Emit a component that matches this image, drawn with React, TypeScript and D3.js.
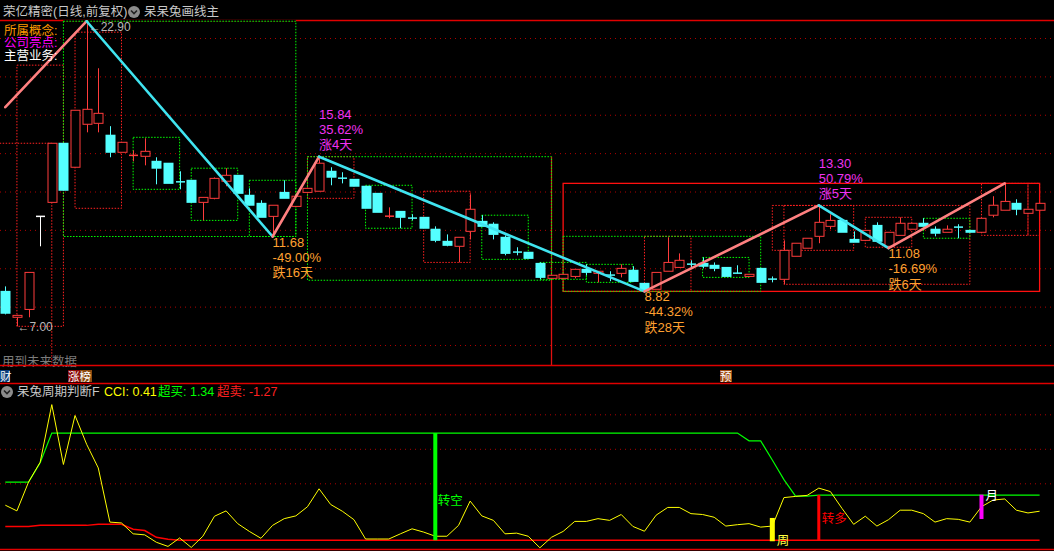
import React from 'react';
import * as d3 from 'd3';

// ---------- data ----------
const opens = [8.82,7.47,7.88,12.73,13.46,16.54,15.29,17.53,17.58,16.96,16.07,15.89,15.86,15.60,15.50,14.53,14.61,13.46,13.67,14.56,14.87,13.83,13.41,12.73,13.98,13.25,13.98,14.04,15.08,14.72,14.66,14.30,13.93,12.72,12.99,12.64,12.68,12.06,11.43,11.17,11.95,12.47,12.32,11.64,10.87,10.86,10.28,9.50,9.50,9.60,9.97,9.76,9.67,9.76,9.92,9.24,8.93,9.87,10.07,10.24,10.28,10.18,10.07,9.77,9.60,10.02,9.46,9.45,10.65,11.07,11.69,12.21,12.52,11.53,11.48,12.26,11.17,11.74,12.06,12.37,12.06,11.90,12.17,12.00,11.90,12.79,13.05,13.41,12.89,13.05];
const closes = [7.68,7.57,9.81,12.73,16.54,14.09,18.26,18.31,18.10,16.07,16.59,15.91,16.12,15.24,14.45,14.51,13.46,13.72,14.71,14.87,13.93,13.31,12.68,13.31,13.67,13.78,14.19,15.50,14.77,14.71,14.30,13.15,12.94,12.74,12.68,12.63,12.11,11.48,11.22,11.64,13.10,12.21,11.79,10.80,10.86,10.54,9.55,9.66,9.71,9.97,9.81,9.87,9.66,10.02,9.34,8.88,9.81,10.33,10.44,10.23,10.13,10.02,9.60,9.76,9.71,9.29,9.45,10.96,11.33,11.59,12.42,12.52,11.90,11.38,12.00,11.43,11.90,12.37,12.37,12.21,11.85,12.06,12.16,11.90,12.63,13.31,13.51,13.10,13.10,13.41];
const highs = [9.08,7.60,9.81,12.73,16.54,16.54,18.26,22.90,20.45,17.43,16.59,16.17,16.80,15.81,15.50,15.08,14.61,13.72,14.76,15.24,14.87,14.19,13.57,13.31,14.61,13.78,14.19,15.84,15.29,15.03,14.66,14.30,13.93,13.20,12.99,12.84,12.68,12.21,11.79,11.64,13.88,12.79,12.42,11.74,11.12,10.86,10.33,9.66,9.71,9.97,10.23,9.87,9.87,10.23,10.13,9.24,9.81,11.64,10.80,10.44,10.59,10.33,10.07,10.18,9.71,10.02,9.60,11.48,11.33,11.59,13.30,12.84,12.52,11.95,12.00,12.42,11.90,12.68,12.37,12.63,12.21,12.26,12.32,12.00,12.63,13.78,14.45,13.62,13.10,13.41];
const lows = [7.62,7.00,7.47,11.17,13.46,14.09,15.29,17.11,17.11,15.81,16.07,15.60,15.39,14.40,14.45,14.14,13.46,12.52,13.62,14.30,13.93,13.31,12.68,11.68,13.67,13.25,13.98,14.04,14.35,14.45,14.30,13.15,12.94,12.63,12.11,12.52,12.11,11.38,11.17,10.33,11.53,12.21,11.53,10.70,10.70,10.54,9.45,9.50,9.50,9.50,9.66,9.29,9.35,9.55,9.34,8.82,8.93,9.87,10.07,10.02,10.02,9.87,9.60,9.76,9.60,9.29,9.29,9.19,10.65,11.07,11.33,12.06,11.90,11.38,11.48,11.43,11.08,11.74,12.06,12.21,11.69,11.90,11.59,11.90,11.90,12.68,13.05,12.79,12.89,13.05];

const zigzagIdx = [0, 7, 23, 27, 55, 70, 76, 86];
const zigzagPrice = [18.42, 22.90, 11.68, 15.84, 8.82, 13.30, 11.08, 14.45];

const pivotIdx = [23, 27, 55, 70, 76];
const pivotValue = ['11.68', '15.84', '8.82', '13.30', '11.08'];
const pivotPct = ['-49.00%', '35.62%', '-44.32%', '50.79%', '-16.69%'];
const pivotDays = ['跌16天', '涨4天', '跌28天', '涨5天', '跌6天'];
const pivotIsHigh = [false, true, false, true, false];

// boxes: [fromIdx, toIdx, lowPrice, highPrice]
const greenBoxes = [
  [5, 25, 11.68, 22.90], [11, 15, 14.14, 16.85], [16, 20, 12.52, 15.24], [21, 25, 11.68, 14.61],
  [26, 47, 9.40, 15.84], [31, 35, 12.11, 14.35], [41, 45, 10.49, 12.79], [46, 50, 9.45, 10.33],
  [50, 54, 9.29, 10.23], [48, 65, 8.82, 11.69], [60, 64, 9.55, 10.59], [79, 83, 11.59, 12.63],
];
const redBoxes = [
  [-1, 4, 4.0, 16.54], [1, 5, 7.00, 20.61], [6, 10, 13.15, 22.33], [26, 30, 13.67, 15.84],
  [36, 40, 10.33, 14.04], [55, 59, 8.82, 11.69], [66, 73, 10.96, 13.30], [67, 83, 9.19, 13.30],
  [74, 78, 11.12, 12.68], [84, 88, 11.74, 14.45], [88, 89, 11.74, 14.45],
];
const redSolidBox = [48, 89, 8.82, 14.45];
const priceGrid = [6, 8, 10, 12, 14, 16, 18, 20, 22];

const cci = [0.76,0.43,2.10,3.25,6.59,3.12,5.96,4.29,2.92,-0.22,-0.27,-0.90,-0.96,-1.39,-1.63,-1.14,-1.69,-1.04,0.12,0.43,-0.31,-0.76,-1.16,-0.41,-0.02,0.14,0.67,1.71,0.80,0.41,-0.08,-1.20,-1.20,-1.20,-0.90,-0.61,-0.80,-1.04,-1.04,-0.41,1.00,0.14,-0.12,-0.90,-0.86,-1.04,-1.71,-1.10,-0.76,-0.18,-0.18,-0.02,-0.12,0.22,-0.47,-0.75,0.18,0.63,0.63,0.27,0.22,0.06,-0.45,-0.37,-0.31,-0.51,-0.45,1.20,1.27,1.33,1.75,1.55,0.57,-0.35,0.12,-0.45,-0.08,0.47,0.47,0.27,-0.22,-0.02,-0.06,-0.22,0.67,1.06,1.12,0.47,0.31,0.41];
const overbought = [2.10,2.10,2.10,3.22,4.94,4.94,4.94,4.94,4.94,4.94,4.94,4.94,4.94,4.94,4.94,4.94,4.94,4.94,4.94,4.94,4.94,4.94,4.94,4.94,4.94,4.94,4.94,4.94,4.94,4.94,4.94,4.94,4.94,4.94,4.94,4.94,4.94,4.94,4.94,4.94,4.94,4.94,4.94,4.94,4.94,4.94,4.94,4.94,4.94,4.94,4.94,4.94,4.94,4.94,4.94,4.94,4.94,4.94,4.94,4.94,4.94,4.94,4.94,4.94,4.49,4.49,3.38,2.24,1.29,1.29,1.34,1.34,1.34,1.34,1.34,1.34,1.34,1.34,1.34,1.34,1.34,1.34,1.34,1.34,1.34,1.34,1.34,1.34,1.34,1.34];
const oversold = [-0.47,-0.47,-0.47,-0.41,-0.41,-0.41,-0.41,-0.41,-0.35,-0.35,-0.35,-0.63,-0.71,-1.10,-1.22,-1.27,-1.27,-1.27,-1.27,-1.27,-1.27,-1.27,-1.27,-1.27,-1.27,-1.27,-1.27,-1.27,-1.27,-1.27,-1.27,-1.27,-1.27,-1.27,-1.27,-1.27,-1.27,-1.27,-1.27,-1.27,-1.27,-1.27,-1.27,-1.27,-1.27,-1.27,-1.27,-1.27,-1.27,-1.27,-1.27,-1.27,-1.27,-1.27,-1.27,-1.27,-1.27,-1.27,-1.27,-1.27,-1.27,-1.27,-1.27,-1.27,-1.27,-1.27,-1.27,-1.27,-1.27,-1.27,-1.27,-1.27,-1.27,-1.27,-1.27,-1.27,-1.27,-1.27,-1.27,-1.27,-1.27,-1.27,-1.27,-1.27,-1.27,-1.27,-1.27,-1.27,-1.27,-1.27];
const cciGrid = [2, 4, 6];

// signal bars
const signalIdx = [37, 66, 70, 84];
const signalFrom = [-1.27, -1.33, -1.27, -0.04];
const signalTo = [4.94, 0.02, 1.35, 1.37];
const signalColor = ['#00ff00', '#ffff00', '#ff0000', '#ff00ff'];
const signalWidth = [4, 5, 3, 4];
const signalLabel = ['转空', '周', '转多', '月'];
const signalLabelColor = ['#00ff00', '#ffff40', '#ff0000', '#ffffff'];

const FONT = "'Liberation Sans', 'Noto Sans CJK SC', sans-serif";

export default function App() {
  const W = 1054, H = 551;
  const x = d3.scaleLinear().domain([0, 89]).range([5.3, 1039.6]);
  const yP = d3.scaleLinear().domain([6, 22]).range([345.5, 38.5]);
  const yC = d3.scaleLinear().domain([2, 6]).range([483.8, 414.8]);
  const bw = 9;

  const zz = zigzagIdx.map((d, k) => [x(d), yP(zigzagPrice[k])]);
  const cciLine = d3.line<number>().x((_, i) => x(i)).y(d => yC(d));

  const boxRect = (b: number[], stroke: string, dash: string, key: string) => (
    <rect key={key} x={x(b[0])} y={yP(b[3])} width={x(b[1]) - x(b[0])} height={yP(b[2]) - yP(b[3])}
      fill="none" stroke={stroke} strokeWidth={1} strokeDasharray={dash} />
  );

  return (
    <svg width={W} height={H} style={{ position: 'absolute', left: 0, top: 0, background: '#000' }} fontFamily={FONT}>
      <rect x={0} y={0} width={W} height={H} fill="#000" />
      <defs>
        <clipPath id="mainClip"><rect x={0} y={20} width={W} height={346} /></clipPath>
      </defs>

      {/* header */}
      <text x={3} y={12} fill="#c8c8c8" fontSize={12.5} dominantBaseline="central">荣亿精密(日线,前复权)</text>
      <circle cx={134} cy={12} r={6} fill="#8c8c8c" />
      <path d="M131,10.5 L134,13.5 L137,10.5" stroke="#222" strokeWidth={1.6} fill="none" />
      <text x={144} y={12} fill="#c8c8c8" fontSize={12.5} dominantBaseline="central">呆呆兔画线主</text>

      {/* panel separators */}
      <line x1={0} x2={W} y1={20.5} y2={20.5} stroke="#e00000" strokeWidth={1.3} />
      <line x1={x(5)} x2={x(25)} y1={20.5} y2={20.5} stroke="#000" strokeWidth={1.6} />

      {/* main grid */}
      {priceGrid.map(p => (
        <line key={'g' + p} x1={0} x2={W} y1={yP(p)} y2={yP(p)} stroke="#b00000" strokeWidth={1} strokeDasharray="1,4" />
      ))}

      <g clipPath="url(#mainClip)">
        {redBoxes.map((b, k) => boxRect(b, '#ff2020', '1.5,1.5', 'rb' + k))}
        <rect x={x(redSolidBox[0])} y={yP(redSolidBox[3])} width={x(redSolidBox[1]) - x(redSolidBox[0])}
          height={yP(redSolidBox[2]) - yP(redSolidBox[3])} fill="none" stroke="#ff1010" strokeWidth={1.3} />
        <line x1={x(47)} x2={x(47)} y1={yP(15.84)} y2={366} stroke="#e01010" strokeWidth={1.3} />
        {greenBoxes.map((b, k) => boxRect(b, '#00ff00', '1.5,1.5', 'gb' + k))}

        {/* candles */}
        {opens.map((o, i) => {
          const c = closes[i], h = highs[i], l = lows[i];
          const cx = Math.round(x(i)) + 0.5;
          const up = c > o, down = c < o;
          const col = up ? '#ff3c3c' : down ? '#54ffff' : '#ffffff';
          const top = yP(Math.max(o, c)), bot = yP(Math.min(o, c));
          const bh = bot - top;
          if (bh < 1.5) {
            return (
              <g key={'c' + i}>
                <line x1={cx} x2={cx} y1={yP(h)} y2={yP(l)} stroke={col} strokeWidth={1} />
                <line x1={cx - bw / 2} x2={cx + bw / 2} y1={top} y2={top} stroke={col} strokeWidth={1.5} />
              </g>
            );
          }
          return (
            <g key={'c' + i}>
              <line x1={cx} x2={cx} y1={yP(h)} y2={top} stroke={col} strokeWidth={1} />
              <line x1={cx} x2={cx} y1={bot} y2={yP(l)} stroke={col} strokeWidth={1} />
              {up
                ? <rect x={cx - bw / 2} y={top} width={bw} height={bh} fill="#000" stroke={col} strokeWidth={1} />
                : <rect x={cx - bw / 2 - 0.5} y={top - 0.5} width={bw + 1} height={bh + 1} fill={col} />}
            </g>
          );
        })}

        {/* zigzag */}
        {zz.slice(1).map((p, k) => {
          const a = zz[k];
          const rising = p[1] < a[1];
          return <line key={'z' + k} x1={a[0]} y1={a[1]} x2={p[0]} y2={p[1]}
            stroke={rising ? '#ff8080' : '#40e4f0'} strokeWidth={2.6} strokeLinecap="round" />;
        })}
      </g>

      {/* extreme labels */}
      <text x={x(7) + 2} y={yP(22.90) + 5.5} fill="#b8b8b8" fontSize={12} dominantBaseline="central">←22.90</text>
      <text x={x(1) + 0.5} y={yP(7.00) + 1} fill="#b8b8b8" fontSize={12} dominantBaseline="central">←7.00</text>

      {pivotIdx.map((pi, k) => {
        const px = x(pi);
        const py = yP(zigzagPrice[zigzagIdx.indexOf(pi)]);
        const hi = pivotIsHigh[k];
        const col = hi ? '#f032f0' : '#ffa030';
        const ys = hi ? [py - 42, py - 27, py - 12] : [py + 5.5, py + 20.5, py + 36];
        const txt = [pivotValue[k], pivotPct[k], pivotDays[k]];
        return (
          <g key={'pl' + k}>
            {txt.map((t, j) => (
              <text key={j} x={px} y={ys[j]} fill={col} fontSize={13} dominantBaseline="central">{t}</text>
            ))}
          </g>
        );
      })}

      {/* info labels */}
      <text x={4} y={31} fill="#ff9900" fontSize={12.5} dominantBaseline="central">所属概念:</text>
      <text x={4} y={43} fill="#ff00ff" fontSize={12.5} dominantBaseline="central">公司亮点:</text>
      <text x={4} y={55.5} fill="#ffffff" fontSize={12.5} dominantBaseline="central">主营业务:</text>
      <text x={2} y={362} fill="#7c7c7c" fontSize={12.5} dominantBaseline="central">用到未来数据</text>

      <line x1={0} x2={W} y1={365.5} y2={365.5} stroke="#e00000" strokeWidth={1.3} />
      <line x1={0} x2={W} y1={383.5} y2={383.5} stroke="#e00000" strokeWidth={1.3} />

      {/* event markers */}
      <rect x={0} y={370} width={10} height={12} fill="#0a3c78" />
      <text x={0} y={376.5} fill="#fff" fontSize={11.5} dominantBaseline="central">财</text>
      <rect x={68} y={370} width={12} height={12} fill="#8a0a0a" />
      <rect x={80} y={370} width={12} height={12} fill="#8a4a10" />
      <text x={68} y={376.5} fill="#fff" fontSize={11.5} dominantBaseline="central">涨榜</text>
      <rect x={720} y={370} width={12} height={12} fill="#a04a10" />
      <text x={720} y={376.5} fill="#fff" fontSize={11.5} dominantBaseline="central">预</text>

      {/* lower panel header */}
      <circle cx={7} cy={392} r={6} fill="#8c8c8c" />
      <path d="M4,390.5 L7,393.5 L10,390.5" stroke="#222" strokeWidth={1.6} fill="none" />
      <text x={17} y={392} fill="#c8c8c8" fontSize={12.5} dominantBaseline="central">呆兔周期判断F</text>
      <text x={104} y={392} fill="#ffff00" fontSize={12.5} dominantBaseline="central">CCI: 0.41</text>
      <text x={158} y={392} fill="#00ff00" fontSize={12.5} dominantBaseline="central">超买: 1.34</text>
      <text x={217} y={392} fill="#ff2020" fontSize={12.5} dominantBaseline="central">超卖: -1.27</text>

      {cciGrid.map(v => (
        <line key={'cg' + v} x1={0} x2={W} y1={yC(v)} y2={yC(v)} stroke="#b00000" strokeWidth={1} strokeDasharray="1,4" />
      ))}

      <path d={cciLine(oversold) || ''} fill="none" stroke="#ff0000" strokeWidth={1.5} />
      <path d={cciLine(overbought) || ''} fill="none" stroke="#00ff00" strokeWidth={1.2} />
      <path d={cciLine(cci) || ''} fill="none" stroke="#ffff00" strokeWidth={1} />

      {signalIdx.map((si, k) => (
        <rect key={'s' + k} x={x(si) - signalWidth[k] / 2} y={yC(signalTo[k])} width={signalWidth[k]}
          height={yC(signalFrom[k]) - yC(signalTo[k])} fill={signalColor[k]} />
      ))}
      <text x={x(37) + 2.5} y={501} fill={signalLabelColor[0]} fontSize={12.5} dominantBaseline="central">{signalLabel[0]}</text>
      <text x={x(66) + 4.5} y={541} fill={signalLabelColor[1]} fontSize={12.5} dominantBaseline="central">{signalLabel[1]}</text>
      <text x={x(70) + 3} y={518.5} fill={signalLabelColor[2]} fontSize={12.5} dominantBaseline="central">{signalLabel[2]}</text>
      <text x={x(84) + 4} y={495.5} fill={signalLabelColor[3]} fontSize={12.5} dominantBaseline="central">{signalLabel[3]}</text>

      <line x1={0} x2={W} y1={549.5} y2={549.5} stroke="#e00000" strokeWidth={1.3} />
    </svg>
  );
}
